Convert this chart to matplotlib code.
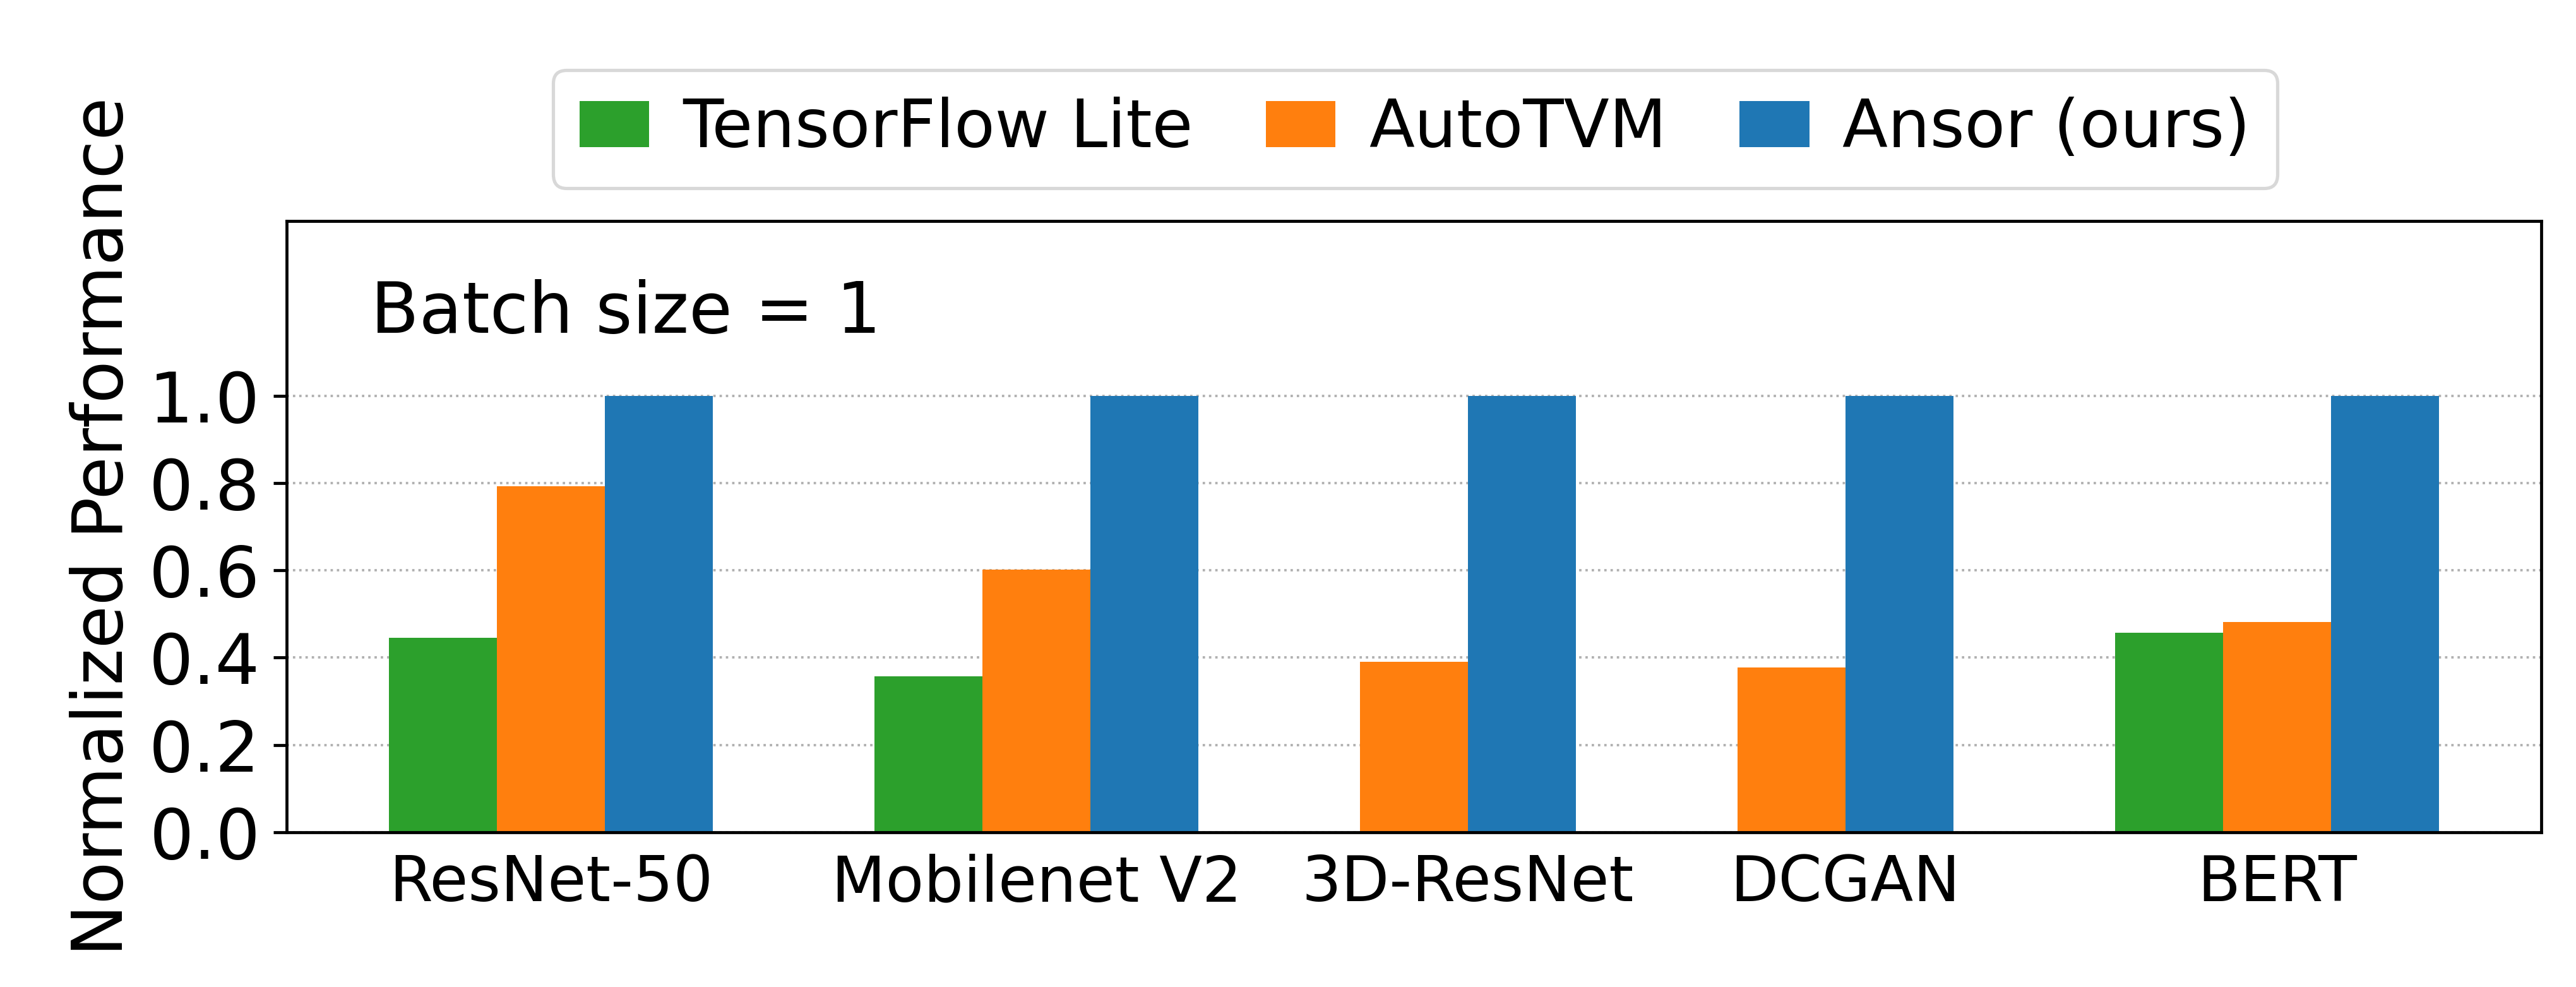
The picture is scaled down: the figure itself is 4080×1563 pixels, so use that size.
import matplotlib
matplotlib.use("Agg")
import matplotlib.pyplot as plt
import numpy as np

models = ["ResNet-50", "Mobilenet V2", "3D-ResNet", "DCGAN", "BERT"]
tflite = [0.445, 0.357, None, None, 0.457]
autotvm = [0.793, 0.601, 0.390, 0.377, 0.482]
ansor = [1.0, 1.0, 1.0, 1.0, 1.0]
series_names = ["TensorFlow Lite", "AutoTVM", "Ansor (ours)"]
colors = ["#2ca02c", "#ff7f0e", "#1f77b4"]
yticks = [0.0, 0.2, 0.4, 0.6, 0.8, 1.0]

plt.rcParams['font.family'] = ['DejaVu Sans']

fig = plt.figure(figsize=(13.6, 5.21), dpi=300)
ax = fig.add_axes([0.11127, 0.15675, 0.87525, 0.61932])

w = 0.25
gap = 1.5 * w
series = [tflite, autotvm, ansor]
cursor = 0.0
centers = []
xs = [[], [], []]
hs = [[], [], []]
for g in range(len(models)):
    present = [s for s in range(3) if series[s][g] is not None]
    nb = len(present)
    for i, s in enumerate(present):
        xs[s].append(cursor + i * w + w / 2)
        hs[s].append(series[s][g])
    centers.append(cursor + nb * w / 2)
    cursor += nb * w + gap

handles = []
for s in range(3):
    b = ax.bar(xs[s], hs[s], width=w, color=colors[s], label=series_names[s], linewidth=0)
    handles.append(b)

ax.set_ylim(0, 1.4)
ax.set_yticks(yticks)
ax.set_yticklabels([f"{v:.1f}" for v in yticks])
ax.set_xticks(centers)
ax.set_xticklabels(models)
ax.tick_params(axis='y', labelsize=26.6, length=5, width=1.15, pad=5)
ax.tick_params(axis='x', labelsize=23.8, length=0, pad=8)
for sp in ax.spines.values():
    sp.set_linewidth(1.15)
ax.set_axisbelow(True)
ax.yaxis.grid(True, linestyle=':', color='#b0b0b0', linewidth=0.9)
ax.set_ylabel("Normalized Performance", fontsize=26.5, labelpad=4.5)

ax.text(0.0372, 0.8176, "Batch size = 1", transform=ax.transAxes,
        fontsize=26.8, va='baseline', ha='left')

leg = fig.legend(handles=handles, labels=series_names, loc='center',
                 bbox_to_anchor=(0.5493, 0.8692), ncol=3, fontsize=25.25,
                 handlelength=1.05, handleheight=0.7, handletextpad=0.5,
                 columnspacing=1.1, fancybox=True, frameon=True,
                 framealpha=1.0, edgecolor='#d8d8d8')
leg.get_frame().set_linewidth(1.25)

fig.savefig("out.png", dpi=300)
